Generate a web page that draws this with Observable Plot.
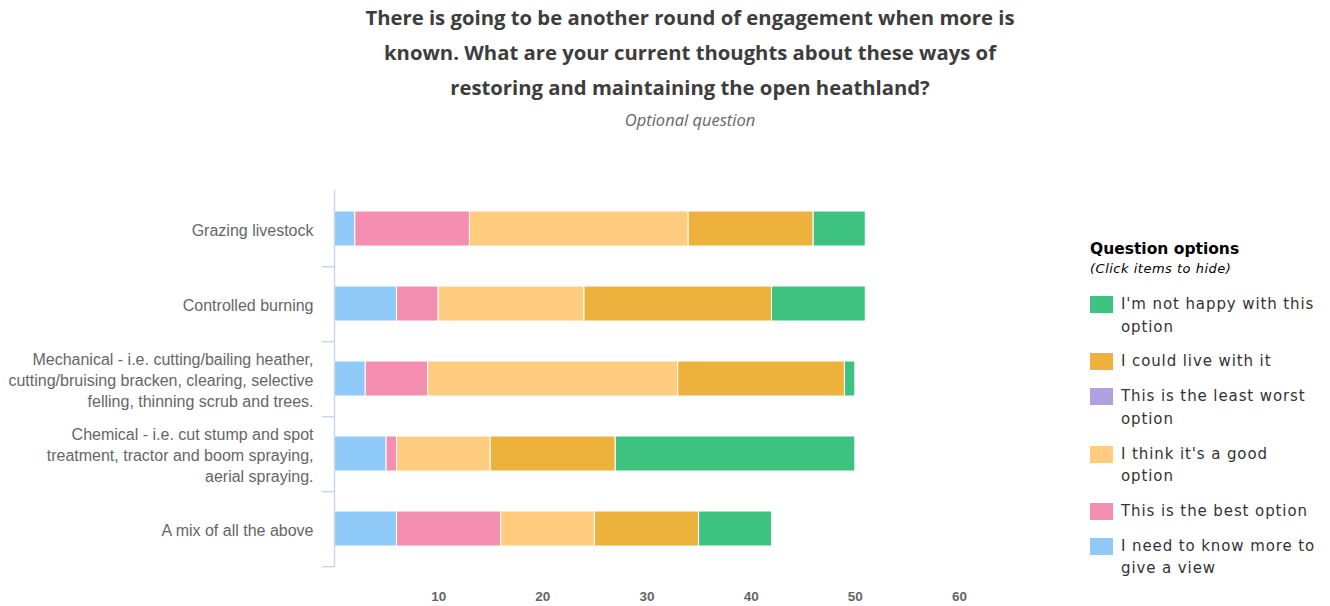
<!DOCTYPE html>
<html>
<head>
<meta charset="utf-8">
<script src="https://cdn.jsdelivr.net/npm/d3@7"></script>
<script src="https://cdn.jsdelivr.net/npm/@observablehq/plot@0.6"></script>
<style>
  html, body { margin: 0; padding: 0; background: #fff; }
  body { width: 1330px; height: 606px; position: relative; overflow: hidden; }
  #title { position: absolute; left: 0; top: 0; width: 1380px; text-align: center;
    font-family: "Open Sans", sans-serif; font-weight: 700; font-size: 20.3px; color: #3d3d3d;
    line-height: 35px; }
  #subtitle { position: absolute; left: 0; top: 108px; width: 1380px; text-align: center;
    font-family: "Open Sans", sans-serif; font-style: italic; font-size: 16.5px; color: #666; }
  #chart { position: absolute; left: 0; top: 140px; }
  #legend { position: absolute; left: 1090px; top: 238px; font-family: "DejaVu Sans", sans-serif; color: #333; }
  #legend .lt { font-weight: 700; font-size: 15.5px; color: #000; line-height: 22px; }
  #legend .ls { font-style: italic; font-size: 13px; letter-spacing: 0.5px; color: #000; line-height: 17px; margin-bottom: 16px; }
  #legend .item { display: flex; align-items: flex-start; margin-bottom: 12.4px; }
  #legend .sw { width: 23px; height: 17px; margin-top: 3px; margin-right: 8px; flex: none; }
  #legend .tx { font-size: 15px; letter-spacing: 0.9px; line-height: 22.5px; width: 199px; color: #333; }
</style>
</head>
<body>
<div id="title">There is going to be another round of engagement when more is<br>known. What are your current thoughts about these ways of<br>restoring and maintaining the open heathland?</div>
<div id="subtitle">Optional question</div>
<div id="chart"></div>
<div id="legend"></div>
<script>
// ---- Data ----
const categories = [
  "Grazing livestock",
  "Controlled burning",
  "Mechanical - i.e. cutting/bailing heather, cutting/bruising bracken, clearing, selective felling, thinning scrub and trees.",
  "Chemical - i.e. cut stump and spot treatment, tractor and boom spraying, aerial spraying.",
  "A mix of all the above"
];
const categoryLabels = [
  "Grazing livestock",
  "Controlled burning",
  "Mechanical - i.e. cutting/bailing heather,\ncutting/bruising bracken, clearing, selective\nfelling, thinning scrub and trees.",
  "Chemical - i.e. cut stump and spot\ntreatment, tractor and boom spraying,\naerial spraying.",
  "A mix of all the above"
];
// series order (stacked left to right); legend shows it reversed
const options = [
  "I need to know more to give a view",
  "This is the best option",
  "I think it's a good option",
  "This is the least worst option",
  "I could live with it",
  "I'm not happy with this option"
];
const colors = ["#90caf9", "#f48fb1", "#ffcc80", "#b0a0e2", "#ecb23c", "#3dc37f"];
const needMore   = [2, 6, 3, 5, 6];
const best       = [11, 4, 6, 1, 10];
const good       = [21, 14, 24, 9, 9];
const leastWorst = [0, 0, 0, 0, 0];
const liveWith   = [12, 18, 16, 12, 10];
const notHappy   = [5, 9, 1, 23, 7];
const xTicks = [10, 20, 30, 40, 50, 60];

const seriesValues = [needMore, best, good, leastWorst, liveWith, notHappy];
const table = [];
options.forEach((opt, i) => {
  categories.forEach((cat, j) => {
    if (seriesValues[i][j] > 0) table.push({category: cat, option: opt, value: seriesValues[i][j]});
  });
});
const labelOf = new Map(categories.map((c, i) => [c, categoryLabels[i]]));

const W = 1330, H = 466, mT = 50, mB = 39, mL = 334, mR = 371;
const step = (H - mT - mB) / categories.length;

const chart = Plot.plot({
  width: W, height: H,
  marginTop: mT, marginBottom: mB, marginLeft: mL, marginRight: mR,
  style: {fontFamily: "'Liberation Sans', Arial, sans-serif", background: "#fff"},
  x: {domain: [0, 60], axis: null, label: null},
  y: {domain: categories, paddingInner: 0.535, paddingOuter: 0.2675, axis: null, label: null},
  color: {domain: options, range: colors},
  marks: [
    Plot.barX(table, Plot.stackX({y: "category", x: "value", fill: "option", stroke: "#fff", strokeWidth: 1})),
    Plot.ruleX([0], {stroke: "#ccd6eb", strokeWidth: 1.5}),
    Plot.ruleY(categories, {y: d => d, x1: -1.15, x2: 0, dy: step / 2, stroke: "#ccd6eb", strokeWidth: 1.5, clip: false}),
    Plot.axisY({tickSize: 0, tickPadding: 21, fontSize: 16, fill: "#666", lineHeight: 1.32, label: null,
      tickFormat: d => labelOf.get(d)}),
    Plot.axisX({ticks: xTicks, tickSize: 0, tickPadding: 24, fontSize: 13.5, fontWeight: "bold", fill: "#666", label: null})
  ]
});
document.getElementById("chart").appendChild(chart);

// ---- Legend (reverse order) ----
const legend = document.getElementById("legend");
legend.innerHTML = '<div class="lt">Question options</div><div class="ls">(Click items to hide)</div>';
options.slice().reverse().forEach(opt => {
  const i = options.indexOf(opt);
  const item = document.createElement("div");
  item.className = "item";
  item.innerHTML = `<div class="sw" style="background:${colors[i]}"></div><div class="tx">${opt}</div>`;
  legend.appendChild(item);
});
</script>
</body>
</html>
